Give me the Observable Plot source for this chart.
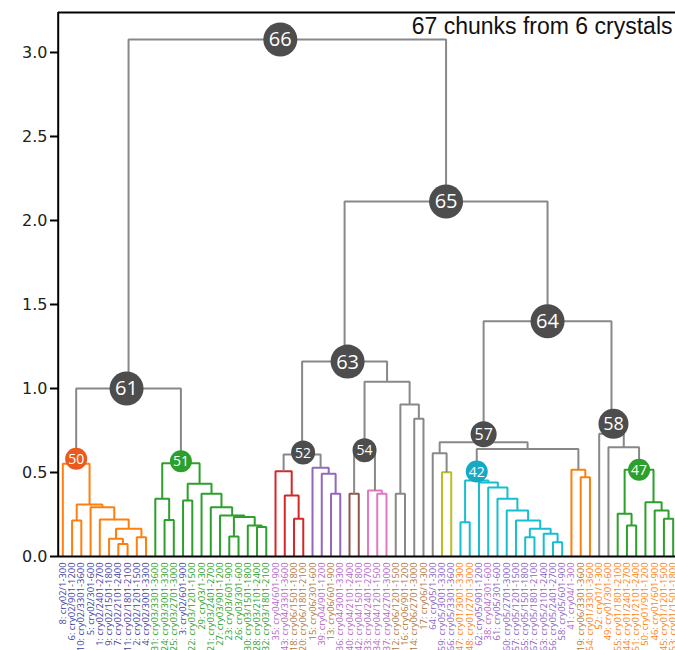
<!DOCTYPE html>
<html>
<head>
<meta charset="utf-8">
<script src="https://cdn.jsdelivr.net/npm/d3@7"></script>
<script src="https://cdn.jsdelivr.net/npm/@observablehq/plot@0.6"></script>
<style>
  html, body { margin: 0; padding: 0; background: #fff; }
</style>
</head>
<body>
<div id="chart"></div>
<script>
// ---------- DATA ----------
const leafLabels = [
  "8: cry02/1-300","6: cry02/901-1200","10: cry02/3301-3600","5: cry02/301-600","1: cry02/2401-2700",
  "9: cry02/1501-1800","7: cry02/2101-2400","11: cry02/1801-2100","2: cry02/1201-1500","4: cry02/3001-3300",
  "31: cry03/3301-3600","24: cry03/3001-3300","25: cry03/2701-3000","3: cry02/601-900","22: cry03/1201-1500",
  "29: cry03/1-300","21: cry03/2401-2700","27: cry03/901-1200","23: cry03/601-900","26: cry03/301-600",
  "30: cry03/1501-1800","28: cry03/2101-2400","32: cry03/1801-2100","35: cry04/601-900","43: cry04/3301-3600",
  "18: cry06/1501-1800","20: cry06/1801-2100","15: cry06/301-600","39: cry04/901-1200","13: cry06/601-900",
  "36: cry04/3001-3300","40: cry04/2101-2400","42: cry04/1501-1800","33: cry04/2401-2700","34: cry04/1201-1500",
  "37: cry04/2701-3000","12: cry06/1201-1500","16: cry06/901-1200","14: cry06/2701-3000","17: cry06/1-300",
  "64: cry05/1-300","59: cry05/3001-3300","66: cry05/3301-3600","47: cry01/3001-3300","48: cry01/2701-3000",
  "62: cry05/901-1200","38: cry04/301-600","61: cry05/301-600","60: cry05/2701-3000","57: cry05/1201-1500",
  "65: cry05/1501-1800","67: cry05/1801-2100","63: cry05/2101-2400","56: cry05/2401-2700","58: cry05/601-900",
  "41: cry04/1-300","19: cry06/3301-3600","54: cry01/3301-3600","52: cry01/1-300","49: cry01/301-600",
  "55: cry01/1801-2100","44: cry01/2401-2700","51: cry01/2101-2400","50: cry01/901-1200","46: cry01/601-900",
  "45: cry01/1201-1500","53: cry01/1501-1800"
];

// merges: [childA, childB, height]; ids < 67 are leaves, id 67+k is merges[k]
const merges = [
  [1,2,0.215],[6,7,0.075],[5,68,0.105],[8,9,0.115],[69,70,0.165],
  [4,71,0.22],[3,72,0.293],[67,73,0.31],[0,74,0.552],
  [11,12,0.218],[10,76,0.343],[13,14,0.333],[18,19,0.119],[21,22,0.175],
  [20,80,0.184],[79,81,0.235],[17,82,0.244],[16,83,0.293],[15,84,0.373],
  [78,85,0.433],[77,86,0.555],
  [75,87,1.0],
  [25,26,0.224],[24,89,0.363],[23,90,0.508],
  [29,30,0.373],[28,92,0.492],[27,93,0.528],
  [91,94,0.607],
  [31,32,0.373],
  [34,35,0.373],[33,97,0.393],
  [96,98,0.615],[36,37,0.373],[38,39,0.82],[100,101,0.905],[99,102,1.04],[95,103,1.16],
  [41,42,0.502],
  [40,105,0.615],
  [43,44,0.204],[53,54,0.085],[52,108,0.135],[50,51,0.115],[110,109,0.165],
  [49,111,0.214],[48,112,0.274],[47,113,0.343],[46,114,0.41],[45,115,0.44],[107,116,0.452],
  [56,57,0.472],[55,118,0.516],
  [117,119,0.64],[106,120,0.68],
  [61,62,0.185],[60,122,0.254],[65,66,0.224],[64,124,0.274],[63,125,0.323],[123,126,0.516],
  [59,127,0.65],[58,128,0.73],[121,129,1.40],[104,130,2.113],[88,131,3.077]
];

// flat cluster of each merge (link colour group)
const linkCluster = [
  "C1","C1","C1","C1","C1","C1","C1","C1","C1",
  "C2","C2","C2","C2","C2","C2","C2","C2","C2","C2","C2","C2",
  "above",
  "C3","C3","C3",
  "C4","C4","C4",
  "above",
  "C5",
  "C6","C6",
  "above","above","above","above","above","above",
  "C7",
  "above",
  "C8","C8","C8","C8","C8","C8","C8","C8","C8","C8","C8",
  "C1","C1",
  "above","above",
  "C2","C2","C2","C2","C2","C2",
  "above","above","above","above","above"
];

// annotated nodes: label shown in circle, and the merge it sits on
const tagLabels = ["50","51","61","52","54","63","42","57","47","58","64","65","66"];
const tagMerges = [8, 20, 21, 28, 32, 37, 50, 54, 60, 62, 63, 64, 65];

const yTicks = [0, 0.5, 1.0, 1.5, 2.0, 2.5, 3.0];
const title = "67 chunks from 6 crystals";

// ---------- STYLES ----------
const clusterColors = {
  C1: "#ff7f0e", C2: "#2ca02c", C3: "#d62728", C4: "#9467bd",
  C5: "#8c564b", C6: "#e377c2", C7: "#bcbd22", C8: "#17becf", above: "#888888"
};
const crystalColors = {
  cry01: "#ff7f0e", cry02: "#3f3fa3", cry03: "#2ca02c",
  cry04: "#b266c6", cry05: "#8a63c4", cry06: "#b07840"
};
const tagStyle = {
  "66": {fill: "#4d4d4d", r: 17, fs: 20, dx: -7, dy: 0},
  "65": {fill: "#4d4d4d", r: 17, fs: 20, dx: 0, dy: 0},
  "64": {fill: "#4d4d4d", r: 17, fs: 20, dx: 0, dy: 0},
  "63": {fill: "#4d4d4d", r: 17, fs: 20, dx: 3, dy: 0},
  "61": {fill: "#4d4d4d", r: 17, fs: 20, dx: -2, dy: 0},
  "58": {fill: "#4d4d4d", r: 15, fs: 18, dx: 2, dy: -10},
  "57": {fill: "#4d4d4d", r: 13, fs: 16, dx: 0, dy: -8},
  "52": {fill: "#4d4d4d", r: 12, fs: 14, dx: 1, dy: -2},
  "54": {fill: "#4d4d4d", r: 12, fs: 14, dx: 0, dy: -3},
  "50": {fill: "#ea5a1e", r: 11, fs: 14, dx: 0, dy: -5},
  "51": {fill: "#2ca02c", r: 11, fs: 14, dx: 0, dy: -2},
  "42": {fill: "#17a9c4", r: 11, fs: 14, dx: 0, dy: -9},
  "47": {fill: "#2ca02c", r: 11, fs: 14, dx: 0, dy: 0}
};

// ---------- LAYOUT ----------
const N = leafLabels.length;
const pos = new Map();
leafLabels.forEach((_, i) => pos.set(i, {x: i, h: 0}));
merges.forEach(([a, b, h], k) => {
  const A = pos.get(a), B = pos.get(b);
  pos.set(N + k, {x: (A.x + B.x) / 2, h});
});

const linkPts = [];
merges.forEach(([a, b, h], k) => {
  const A = pos.get(a), B = pos.get(b), c = linkCluster[k];
  linkPts.push({k, c, x: A.x, y: A.h}, {k, c, x: A.x, y: h},
               {k, c, x: B.x, y: h}, {k, c, x: B.x, y: B.h});
});

const leaves = leafLabels.map((label, i) => ({i, label, cry: label.match(/cry\d\d/)[0]}));

const yTop = 3.238;
const xRange = [57.7, 677.3];
const pxPerLeaf = (xRange[1] - xRange[0]) / N;
const pxPerUnit = (650 - 94 - 12) / yTop;

const tags = tagLabels.map((t, j) => {
  const p = pos.get(N + tagMerges[j]), s = tagStyle[t];
  return {t, x: p.x + s.dx / pxPerLeaf, y: p.h - s.dy / pxPerUnit, s};
});

const marks = [];
Object.keys(clusterColors).forEach(c => {
  marks.push(Plot.line(linkPts.filter(d => d.c === c), {
    x: "x", y: "y", z: "k", stroke: clusterColors[c], strokeWidth: 2,
    strokeLinejoin: "miter", strokeLinecap: "butt"
  }));
});
// spines
marks.push(Plot.ruleX([-0.5], {y1: 0, y2: yTop, stroke: "black", strokeWidth: 2}));
marks.push(Plot.ruleY([0], {stroke: "black", strokeWidth: 2}));
marks.push(Plot.ruleY([yTop], {stroke: "black", strokeWidth: 2}));
// axis
marks.push(Plot.axisY({
  ticks: yTicks, tickFormat: d3.format(".1f"), tickSize: 8, tickPadding: 3,
  fontSize: 16, fontFamily: "DejaVu Sans", stroke: "black", strokeWidth: 2,
  fill: "#222", label: null
}));
// leaf labels
Object.keys(crystalColors).forEach(cry => {
  marks.push(Plot.text(leaves.filter(d => d.cry === cry), {
    x: "i", y: () => 0, text: "label", rotate: -90, textAnchor: "end",
    dy: 6, fontSize: 9.4, fontFamily: "Open Sans", fill: crystalColors[cry]
  }));
});
// node tags
tags.forEach(d => {
  marks.push(Plot.dot([d], {x: "x", y: "y", r: d.s.r, fill: d.s.fill, stroke: "none"}));
  marks.push(Plot.text([d], {x: "x", y: "y", text: "t", fill: "white",
    fontSize: d.s.fs, fontFamily: "Open Sans", dy: 0.5}));
});
// title
marks.push(Plot.text([title], {
  frameAnchor: "top-right", textAnchor: "end", lineAnchor: "middle",
  dx: -3, dy: 14, fontSize: 23, fontFamily: "Liberation Sans", fill: "#111"
}));

const chart = Plot.plot({
  width: 675, height: 650,
  marginLeft: 58, marginRight: 0, marginTop: 12, marginBottom: 94,
  x: {domain: [-0.5, N - 0.5], range: xRange, axis: null},
  y: {domain: [0, yTop], axis: null},
  style: {fontFamily: "DejaVu Sans", background: "white"},
  marks
});
document.getElementById("chart").appendChild(chart);
</script>
</body>
</html>
